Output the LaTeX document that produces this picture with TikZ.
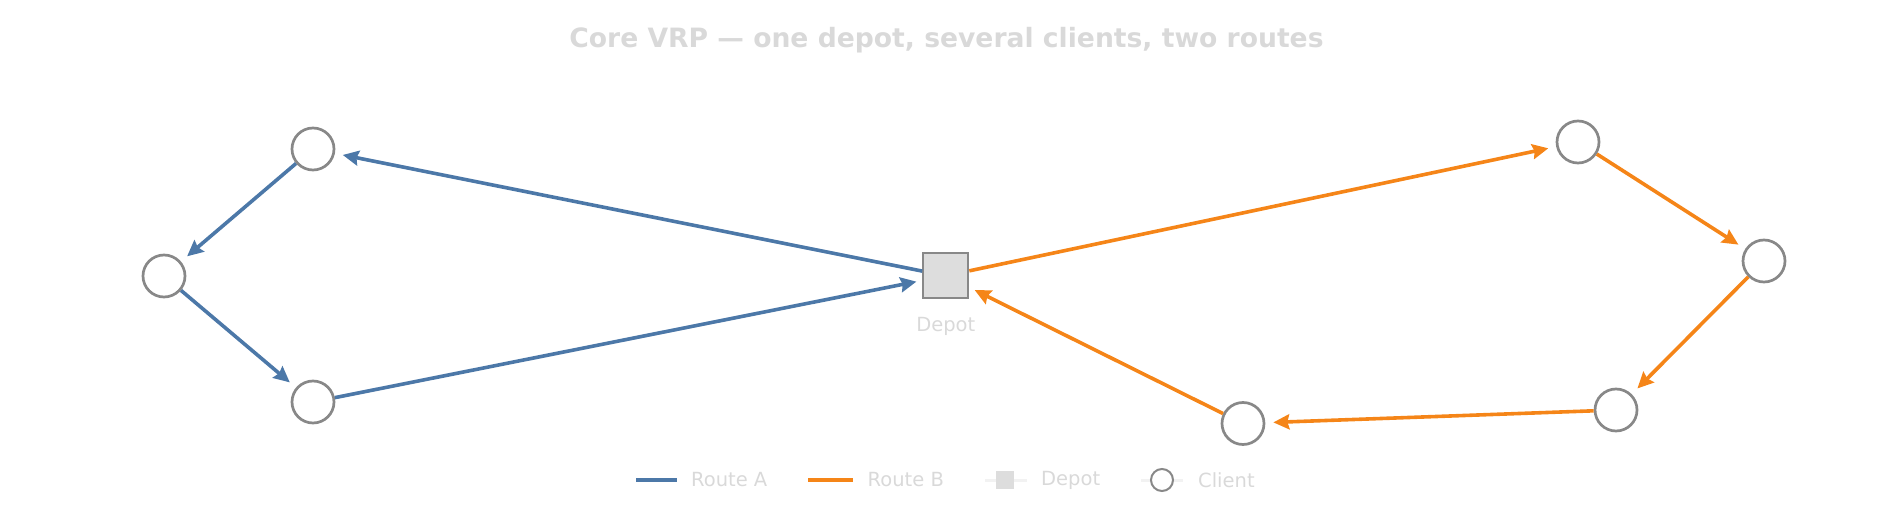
\documentclass[tikz,border=0pt]{standalone}
\usepackage{fontspec}
\setmainfont{DejaVu Sans}
\usetikzlibrary{arrows.meta,positioning}
\definecolor{routeA}{HTML}{4C78A8}
\definecolor{routeB}{HTML}{F58518}
\definecolor{ringgrey}{HTML}{888888}
\definecolor{depotfill}{HTML}{DDDDDD}
\definecolor{softtext}{HTML}{D9D9D9}

\begin{document}
\begin{tikzpicture}[x=1pt,y=-1pt,
    client/.style={circle,draw=ringgrey,line width=2.7pt,fill=white,inner sep=0pt,minimum size=42pt},
    depot/.style={rectangle,draw=ringgrey,line width=2pt,fill=depotfill,inner sep=0pt,minimum size=45pt},
    leg/.style={anchor=west,text=softtext,font=\fontsize{19.5}{22}\selectfont,inner sep=0pt},
    hop/.style={line width=3.6pt,-{Stealth[length=16pt,width=15pt,inset=2pt]},shorten >=8pt}]

    \useasboundingbox (0,0) rectangle (1892,526);

    \node [text=softtext,font=\bfseries\fontsize{26.6}{30}\selectfont] (title) at (946.5,40) {Core VRP — one depot, several clients, two routes};

    \node [depot] (d) at (945.8,275.8) {};
    \node [text=softtext,font=\fontsize{19.5}{22}\selectfont] (dlabel) at (945.8,326) {Depot};

    \node [client] (a1) at (313,149) {};
    \node [client] (a2) at (164,276) {};
    \node [client] (a3) at (313,402) {};

    \node [client] (b1) at (1578,142) {};
    \node [client] (b2) at (1764,261) {};
    \node [client] (b3) at (1616,410) {};
    \node [client] (b4) at (1243,423.5) {};

    % route A
    \draw [hop,routeA] (d) -- (a1);
    \draw [hop,routeA] (a1) -- (a2);
    \draw [hop,routeA] (a2) -- (a3);
    \draw [hop,routeA,shorten >=6pt] (a3) -- (d);

    % route B
    \draw [hop,routeB] (d) -- (b1);
    \draw [hop,routeB] (b1) -- (b2);
    \draw [hop,routeB] (b2) -- (b3);
    \draw [hop,routeB] (b3) -- (b4);
    \draw [hop,routeB,shorten >=6pt] (b4) -- (d);

    % legend
    \coordinate (la0) at (636,480);
    \coordinate (la1) at (677,480);
    \draw [routeA,line width=3.6pt] (la0) -- (la1);
    \node [leg] (legA) at (691,480) {Route A};

    \coordinate (lb0) at (808,480);
    \coordinate (lb1) at (853,480);
    \draw [routeB,line width=3.6pt] (lb0) -- (lb1);
    \node [leg] (legB) at (867.5,480) {Route B};

    \coordinate (ld0) at (985,480);
    \coordinate (ld1) at (1027,480);
    \draw [black!5,line width=3pt] (ld0) -- (ld1);
    \node [rectangle,fill=depotfill,inner sep=0pt,minimum size=18pt] (ldm) at (1005,480) {};
    \node [leg] (legD) at (1041,480) {Depot};

    \coordinate (lc0) at (1141,480);
    \coordinate (lc1) at (1183,480);
    \draw [black!5,line width=3pt] (lc0) -- (lc1);
    \node [circle,draw=ringgrey,line width=2pt,fill=white,inner sep=0pt,minimum size=22pt] (lcm) at (1162,480) {};
    \node [leg] (legC) at (1198,480) {Client};
\end{tikzpicture}
\end{document}
